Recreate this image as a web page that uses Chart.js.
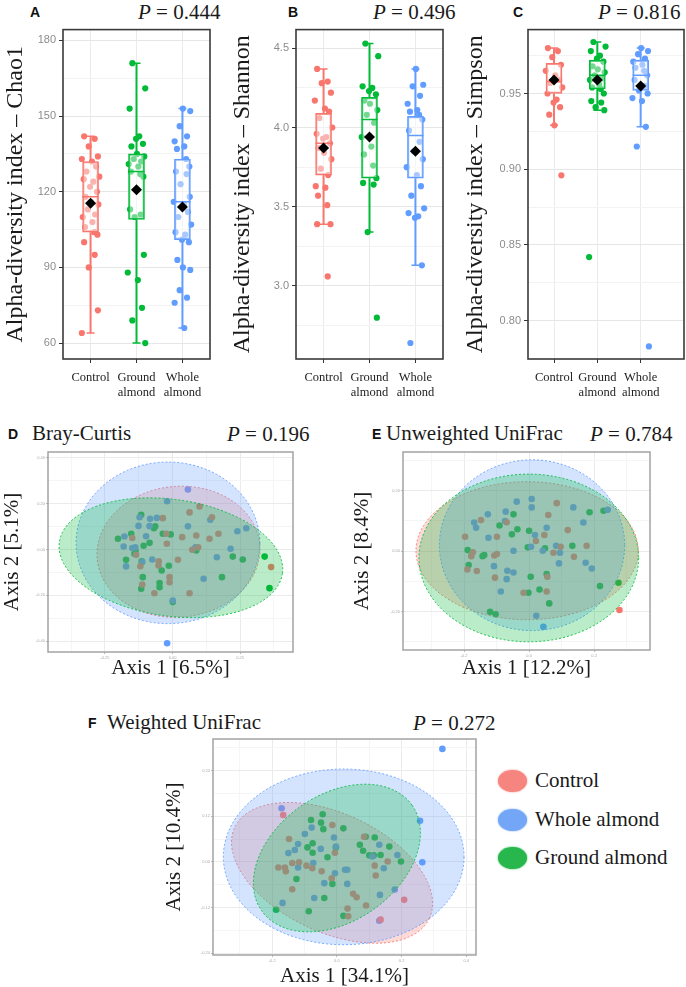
<!DOCTYPE html>
<html>
<head>
<meta charset="utf-8">
<title>Alpha and beta diversity</title>
<script src="https://cdn.jsdelivr.net/npm/chart.js@4.4.1/dist/chart.umd.min.js"></script>
<style>
  html, body { margin: 0; padding: 0; background: #fff; }
  body { position: relative; width: 686px; height: 987px; overflow: hidden; }
  canvas { position: absolute; }
  .t { position: absolute; white-space: nowrap; line-height: 1; color: #1a1a1a; font-family: "Liberation Serif", serif; font-size: 21px; }
  .k { position: absolute; line-height: 1; font-family: "Liberation Sans", Arial, sans-serif; font-weight: bold; font-size: 14px; color: #111; }
  .key { position: absolute; width: 29px; height: 22px; border-radius: 50%; }
</style>
</head>
<body>
<span class="k" style="left:30px;top:5px">A</span>
<span class="t" style="left:138px;top:2px"><i>P</i> = 0.444</span>
<span class="k" style="left:288px;top:5px">B</span>
<span class="t" style="left:373px;top:2px"><i>P</i> = 0.496</span>
<span class="k" style="left:513px;top:5px">C</span>
<span class="t" style="left:598px;top:2px"><i>P</i> = 0.816</span>

<span class="k" style="left:8px;top:427px">D</span>
<span class="t" style="left:32px;top:423px">Bray-Curtis</span>
<span class="t" style="left:227px;top:424px"><i>P</i> = 0.196</span>
<span class="k" style="left:372px;top:427px">E</span>
<span class="t" style="left:386px;top:423px">Unweighted UniFrac</span>
<span class="t" style="left:590px;top:424px"><i>P</i> = 0.784</span>

<span class="k" style="left:88px;top:716px">F</span>
<span class="t" style="left:107px;top:712px">Weighted UniFrac</span>
<span class="t" style="left:413px;top:713px"><i>P</i> = 0.272</span>

<div id="legend"></div>

<canvas id="chao" width="225" height="385" style="left:0;top:20px"></canvas>
<canvas id="shannon" width="230" height="385" style="left:225px;top:20px"></canvas>
<canvas id="simpson" width="231" height="385" style="left:455px;top:20px"></canvas>
<canvas id="bray" width="340" height="235" style="left:0;top:445px"></canvas>
<canvas id="unweighted" width="346" height="235" style="left:340px;top:445px"></canvas>
<canvas id="weighted" width="340" height="257" style="left:150px;top:730px"></canvas>

<script>
// ---- alpha diversity (A-C) ----
const boxLabels = [['Control'], ['Ground', 'almond'], ['Whole', 'almond']];
const red = '#F8766D', green = '#00BA38', blue = '#619CFF';
const boxColors = [red, green, blue];

// Chao1
const chaoControl = [142, 141, 138, 134, 133, 132, 130, 128, 126, 125, 124, 122, 120, 118, 116, 115, 113, 111, 110, 108, 106, 104, 103, 100, 95, 90, 73, 64];
const chaoGround = [171, 161, 153, 142, 141, 139, 138, 135, 134, 133, 132, 131, 130, 128, 127, 126, 113, 111, 110, 95, 88, 85, 74, 69, 60];
const chaoWhole = [153, 152, 146, 142, 140, 138, 137, 133, 130, 128, 127, 123, 118, 116, 115, 112, 110, 107, 104, 103, 101, 100, 93, 90, 89, 81, 78, 76, 66];
// [lower whisker, q1, median, q3, upper whisker]
const chaoBox = [[64, 104, 118, 132, 142], [60, 109, 128, 135, 171], [66, 101, 116, 133, 153]];
const chaoMean = [115.5, 120.8, 114.0];

// Shannon
const shannonControl = [4.37, 4.29, 4.28, 4.22, 4.17, 4.12, 4.10, 4.06, 4.00, 3.96, 3.94, 3.93, 3.90, 3.87, 3.84, 3.80, 3.74, 3.70, 3.63, 3.62, 3.57, 3.51, 3.39, 3.39, 3.06];
const shannonGround = [4.53, 4.45, 4.26, 4.25, 4.23, 4.21, 4.17, 4.15, 4.11, 4.08, 4.03, 3.94, 3.88, 3.83, 3.76, 3.68, 3.65, 3.64, 3.34, 2.80];
const shannonWhole = [4.37, 4.27, 4.26, 4.20, 4.15, 4.11, 4.10, 4.08, 4.05, 3.98, 3.91, 3.85, 3.80, 3.75, 3.70, 3.63, 3.57, 3.49, 3.46, 3.44, 3.43, 3.13, 2.64];
const shannonBox = [[3.39, 3.70, 3.90, 4.09, 4.37], [3.34, 3.68, 4.05, 4.19, 4.53], [3.13, 3.68, 3.95, 4.07, 4.37]];
const shannonMean = [3.87, 3.94, 3.85];

// Simpson
const simpsonControl = [0.980, 0.978, 0.974, 0.969, 0.965, 0.962, 0.959, 0.957, 0.954, 0.950, 0.946, 0.944, 0.941, 0.936, 0.929, 0.896];
const simpsonGround = [0.984, 0.981, 0.978, 0.975, 0.973, 0.971, 0.968, 0.966, 0.964, 0.962, 0.960, 0.959, 0.956, 0.954, 0.953, 0.950, 0.945, 0.944, 0.941, 0.939, 0.842];
const simpsonWhole = [0.980, 0.978, 0.976, 0.973, 0.971, 0.969, 0.967, 0.965, 0.962, 0.959, 0.955, 0.952, 0.950, 0.947, 0.945, 0.928, 0.915, 0.783];
const simpsonBox = [[0.929, 0.950, 0.958, 0.970, 0.980], [0.939, 0.953, 0.962, 0.972, 0.984], [0.928, 0.952, 0.962, 0.972, 0.980]];
const simpsonMean = [0.959, 0.959, 0.955];

// horizontal jitter of the dots (category units)
const jitter = [-0.14, 0.09, -0.04, 0.16, -0.19, 0.03, 0.12, -0.09, 0.19, -0.15, 0.06, -0.01, 0.14, -0.11, 0.01, 0.17, -0.06, 0.10, -0.17, 0.04, -0.12, 0.08, 0.15];

// ---- beta diversity (D-F), points as [axis1, axis2] ----
const legendNames = ['Control', 'Whole almond', 'Ground almond'];
const pcoaColors = [red, blue, green];

const brayControl = [[0.100, 0.188], [0.063, 0.162], [0.146, 0.141], [-0.036, 0.137], [0.036, 0.054], [0.088, 0.061], [0.137, 0.047], [0.170, 0.069], [-0.021, 0.025], [-0.149, 0.050], [-0.023, 0.069], [0.073, -0.001], [0.095, 0.010], [-0.135, -0.023], [-0.051, -0.052], [-0.052, -0.070], [0.020, -0.045], [-0.119, -0.073], [-0.011, -0.121], [-0.011, -0.143], [-0.112, -0.153], [-0.067, -0.191], [0.063, -0.191], [0.365, -0.077]];
const brayWhole = [[0.057, 0.262], [-0.020, 0.211], [-0.122, 0.141], [-0.083, 0.134], [-0.058, 0.138], [-0.126, 0.103], [-0.085, 0.102], [0.057, 0.101], [0.140, 0.130], [0.240, 0.080], [0.273, 0.093], [-0.178, 0.057], [-0.098, 0.058], [-0.181, 0.013], [-0.149, 0.006], [-0.138, 0.010], [-0.075, -0.044], [-0.172, -0.074], [0.215, 0.003], [0.164, -0.034], [0.085, 0.010], [0.115, -0.128], [0.001, -0.223], [-0.020, -0.410], [-0.112, -0.055]];
const brayGround = [[-0.116, 0.152], [-0.153, 0.069], [-0.064, 0.101], [-0.069, 0.093], [-0.036, 0.069], [-0.007, 0.066], [-0.202, 0.047], [-0.107, 0.016], [-0.085, 0.029], [-0.137, -0.007], [-0.141, -0.019], [-0.172, -0.045], [-0.114, -0.052], [-0.040, -0.092], [-0.014, -0.071], [0.088, -0.004], [0.223, -0.031], [0.260, -0.044], [0.183, -0.121], [0.341, -0.031], [0.359, -0.169], [-0.110, -0.121], [-0.116, -0.172], [-0.048, -0.147], [-0.048, -0.165], [0.001, -0.230]];
// ellipses: [centre axis1, centre axis2, radius axis1, radius axis2, tilt deg]
const brayEllipse = [[0.022, -0.010, 0.302, 0.286, -5], [-0.017, 0.029, 0.340, 0.353, 0], [-0.006, -0.036, 0.417, 0.255, 8]];

const unwControl = [[-0.197, 0.047], [-0.173, -0.004], [-0.178, -0.017], [-0.148, 0.102], [-0.069, 0.095], [-0.099, 0.047], [-0.107, -0.015], [-0.099, -0.010], [-0.190, -0.061], [-0.161, -0.066], [-0.105, -0.088], [-0.017, -0.138], [0.021, 0.033], [0.047, 0.053], [0.059, 0.119], [0.085, 0.158], [0.075, -0.006], [0.097, 0.014], [0.119, 0.069], [0.138, -0.019], [0.177, 0.017], [0.056, -0.085], [0.054, -0.134], [0.278, -0.195]];
const unwWhole = [[-0.038, 0.163], [0.008, 0.172], [0.008, 0.144], [-0.072, 0.130], [-0.127, 0.121], [-0.074, 0.099], [-0.169, 0.094], [-0.163, 0.077], [-0.125, 0.044], [0.018, 0.053], [0.054, 0.077], [0.136, 0.144], [0.167, 0.094], [0.242, 0.136], [-0.048, 0.001], [0.006, 0.014], [0.042, 0.001], [0.083, 0.017], [0.095, -0.006], [0.092, -0.041], [0.174, -0.039], [0.193, -0.058], [-0.108, -0.050], [-0.067, -0.065], [-0.048, -0.071], [-0.069, -0.093], [-0.087, -0.134], [0.022, -0.214], [0.044, -0.250]];
const unwGround = [[-0.189, 0.003], [-0.143, -0.017], [-0.138, -0.013], [-0.186, -0.046], [-0.091, 0.084], [-0.048, 0.121], [-0.053, 0.055], [-0.036, 0.072], [0.000, 0.067], [-0.004, 0.012], [0.049, 0.009], [0.005, -0.085], [0.054, -0.076], [-0.002, -0.138], [0.032, -0.127], [0.062, -0.173], [-0.120, -0.201], [-0.103, -0.209], [0.133, 0.017], [0.186, 0.128], [0.229, 0.133], [0.218, -0.116], [0.275, -0.105]];
const unwEllipse = [[-0.006, 0.001, 0.342, 0.228, 0], [0.009, 0.019, 0.285, 0.282, 0], [-0.001, -0.023, 0.338, 0.277, 0]];

const wControl = [[-0.166, 0.123], [-0.014, 0.097], [0.084, 0.066], [-0.148, 0.060], [-0.006, 0.024], [-0.138, -0.003], [-0.117, -0.001], [-0.181, -0.015], [-0.161, -0.015], [-0.158, -0.025], [-0.094, -0.010], [-0.076, -0.017], [-0.047, -0.025], [-0.016, -0.043], [0.117, -0.010], [0.157, 0.001], [0.120, -0.036], [-0.138, -0.072], [0.050, -0.084], [0.061, -0.093], [0.090, -0.115], [0.033, -0.123], [0.035, -0.143], [0.208, -0.100], [0.135, -0.152]];
const wWhole = [[0.326, 0.297], [-0.171, 0.141], [0.257, 0.108], [0.264, -0.001], [-0.078, 0.090], [-0.099, 0.073], [-0.009, 0.064], [-0.120, 0.047], [-0.150, 0.023], [-0.130, 0.031], [-0.050, 0.034], [-0.003, 0.040], [0.131, 0.045], [0.110, 0.014], [0.187, 0.018], [0.145, -0.017], [-0.073, -0.003], [-0.120, -0.015], [-0.006, -0.030], [0.025, -0.021], [0.032, -0.021], [-0.039, -0.056], [0.032, -0.058], [-0.070, -0.095], [-0.168, -0.108], [0.133, -0.087], [0.179, -0.073], [0.131, -0.155]];
const wGround = [[-0.080, 0.110], [-0.044, 0.125], [-0.049, 0.103], [-0.042, 0.086], [0.020, 0.088], [0.089, 0.066], [0.117, 0.064], [0.162, 0.040], [0.071, 0.045], [0.081, 0.029], [0.100, 0.017], [0.114, 0.017], [0.135, 0.018], [0.198, 0.001], [-0.091, 0.038], [-0.075, 0.049], [-0.075, 0.024], [-0.029, 0.012], [-0.003, 0.038], [-0.125, -0.045], [-0.014, -0.058], [-0.039, -0.095], [-0.087, -0.130], [-0.188, -0.126], [0.020, -0.142]];
const wEllipse = [[-0.015, -0.029, 0.332, 0.156, 25], [0.021, 0.013, 0.372, 0.231, 0], [0.000, 0.010, 0.284, 0.166, -35]];

// ---------------------------------------------------------------
const serif = '"Liberation Serif", "Times New Roman", serif';
const sans = '"Liberation Sans", Arial, sans-serif';

function isMajor(v, step) {
    const r = v / step;
    return Math.abs(r - Math.round(r)) < 1e-6;
}

function rgba(hex, a) {
    const n = parseInt(hex.slice(1), 16);
    return 'rgba(' + (n >> 16) + ',' + ((n >> 8) & 255) + ',' + (n & 255) + ',' + a + ')';
}

// panel border
function framePlugin(color, width) {
    return {
        id: 'frame',
        afterDraw(chart) {
            const a = chart.chartArea, ctx = chart.ctx;
            ctx.save();
            ctx.strokeStyle = color;
            ctx.lineWidth = width;
            ctx.strokeRect(a.left, a.top, a.right - a.left, a.bottom - a.top);
            ctx.restore();
        }
    };
}

// confidence ellipses, placed with the chart scales
function ellipsePlugin(list, colors) {
    return {
        id: 'ellipses',
        afterDatasetsDraw(chart) {
            const ctx = chart.ctx, x = chart.scales.x, y = chart.scales.y, a = chart.chartArea;
            ctx.save();
            ctx.beginPath();
            ctx.rect(a.left, a.top, a.right - a.left, a.bottom - a.top);
            ctx.clip();
            list.forEach((e, i) => {
                const px = x.getPixelForValue(e[0]);
                const py = y.getPixelForValue(e[1]);
                const rx = Math.abs(x.getPixelForValue(e[0] + e[2]) - px);
                const ry = Math.abs(y.getPixelForValue(e[1] + e[3]) - py);
                ctx.beginPath();
                ctx.ellipse(px, py, rx, ry, e[4] * Math.PI / 180, 0, 2 * Math.PI);
                ctx.fillStyle = rgba(colors[i], 0.27);
                ctx.fill();
                ctx.setLineDash([2, 2]);
                ctx.lineWidth = 1;
                ctx.strokeStyle = rgba(colors[i], 0.9);
                ctx.stroke();
            });
            ctx.restore();
        }
    };
}

function boxChart(id, pts, box, means, o) {
    const ds = [];
    pts.forEach((vals, g) => {
        ds.push({
            type: 'scatter',
            order: 6,
            data: vals.map((v, i) => ({ x: g + 1 + jitter[(i + g * 7) % jitter.length], y: v })),
            pointBackgroundColor: boxColors[g],
            pointBorderWidth: 0,
            pointRadius: 3.1
        });
    });
    ds.push({
        type: 'bar',
        order: 5,
        data: box.map((b, g) => ({ x: g + 1, y: [b[1], b[3]] })),
        backgroundColor: 'rgba(255,255,255,0.45)',
        borderColor: boxColors,
        borderWidth: 1.5,
        borderSkipped: false,
        barThickness: 16
    });
    box.forEach((b, g) => {
        ds.push({
            type: 'line',
            order: 4,
            data: [{ x: g + 1, y: b[0] }, { x: g + 1, y: b[1] }, { x: g + 1, y: null }, { x: g + 1, y: b[3] }, { x: g + 1, y: b[4] }],
            borderColor: boxColors[g],
            borderWidth: 2,
            pointRadius: 0,
            spanGaps: false,
            fill: false
        });
    });
    // whisker caps
    ds.push({
        type: 'scatter',
        order: 3,
        data: box.flatMap((b, g) => [{ x: g + 1, y: b[0] }, { x: g + 1, y: b[4] }]),
        pointStyle: 'line',
        pointRadius: 4,
        pointBorderWidth: 1.5,
        pointBorderColor: box.flatMap((b, g) => [boxColors[g], boxColors[g]])
    });
    // medians
    ds.push({
        type: 'scatter',
        order: 3,
        data: box.map((b, g) => ({ x: g + 1, y: b[2] })),
        pointStyle: 'line',
        pointRadius: 8,
        pointBorderWidth: 1.5,
        pointBorderColor: boxColors
    });
    // means
    ds.push({
        type: 'scatter',
        order: 1,
        data: means.map((m, g) => ({ x: g + 1, y: m })),
        pointStyle: 'rectRot',
        pointRadius: 5.5,
        pointBackgroundColor: '#000',
        pointBorderWidth: 0
    });

    return new Chart(document.getElementById(id), {
        type: 'bar',
        data: { datasets: ds },
        plugins: [framePlugin('#3a3a3a', 1.6)],
        options: {
            responsive: false,
            animation: false,
            events: [],
            layout: { autoPadding: false, padding: { top: 5, right: o.padRight, left: 0, bottom: 0 } },
            plugins: { legend: { display: false }, tooltip: { enabled: false } },
            scales: {
                x: {
                    type: 'linear',
                    min: 0.4,
                    max: o.xMax,
                    offset: false,
                    afterBuildTicks: s => { s.ticks = [1, 2, 3].map(v => ({ value: v })); },
                    afterFit: s => { s.height = 46; },
                    grid: { offset: false, color: '#ebebeb', tickColor: '#333', tickLength: 4 },
                    border: { display: false },
                    ticks: {
                        autoSkip: false,
                        maxRotation: 0,
                        padding: 8,
                        color: '#222',
                        font: { family: serif, size: 12.5, lineHeight: 1.15 },
                        callback: v => boxLabels[Math.round(v) - 1]
                    }
                },
                y: {
                    min: o.yMin,
                    max: o.yMax,
                    afterFit: s => { s.width = o.yWidth; },
                    grid: {
                        color: c => isMajor(c.tick.value, o.major) ? '#e6e6e6' : '#f3f3f3',
                        tickColor: c => isMajor(c.tick.value, o.major) ? '#333' : 'rgba(0,0,0,0)',
                        tickLength: 4
                    },
                    border: { display: false },
                    ticks: {
                        stepSize: o.minor,
                        includeBounds: false,
                        autoSkip: false,
                        padding: 3,
                        color: '#8c8c8c',
                        font: { family: sans, size: 11 },
                        callback: v => isMajor(v, o.major) ? v.toFixed(o.dec) : ''
                    },
                    title: {
                        display: true,
                        text: o.title,
                        color: '#1a1a1a',
                        font: { family: serif, size: 24, lineHeight: 1 },
                        padding: { top: o.titlePad, bottom: 0 }
                    }
                }
            }
        }
    });
}

function pcoaChart(id, sets, ellipses, o) {
    const ds = sets.map((pts, g) => ({
        type: 'scatter',
        data: pts.map(p => ({ x: p[0], y: p[1] })),
        pointBackgroundColor: pcoaColors[g],
        pointBorderWidth: 0,
        pointRadius: 3.3
    }));
    const axis = (min, max, major, minor, dec, title, pad, vertical) => ({
        min: min,
        max: max,
        grid: {
            color: c => isMajor(c.tick.value, major) ? '#ebebeb' : '#f5f5f5',
            tickColor: c => isMajor(c.tick.value, major) ? '#bbb' : 'rgba(0,0,0,0)',
            tickLength: 2
        },
        border: { display: false },
        ticks: {
            stepSize: minor,
            includeBounds: false,
            autoSkip: false,
            maxRotation: 0,
            padding: 1,
            color: '#aaa',
            font: { family: sans, size: 4 },
            callback: v => isMajor(v, major) ? v.toFixed(dec) : ''
        },
        title: {
            display: true,
            text: title,
            color: '#1a1a1a',
            font: { family: serif, size: 21, lineHeight: 1 },
            padding: vertical ? { top: pad, bottom: 0 } : { top: 0, bottom: pad }
        }
    });
    const x = axis(o.xMin, o.xMax, o.xMajor, o.xMinor, o.xDec, o.xTitle, o.xPad, false);
    x.type = 'linear';
    x.afterFit = s => { s.height = o.xHeight; };
    const y = axis(o.yMin, o.yMax, o.yMajor, o.yMinor, o.yDec, o.yTitle, o.yPad, true);
    y.afterFit = s => { s.width = o.yWidth; };

    return new Chart(document.getElementById(id), {
        type: 'scatter',
        data: { datasets: ds },
        plugins: [ellipsePlugin(ellipses, pcoaColors), framePlugin('#a3a3a3', 1.5)],
        options: {
            responsive: false,
            animation: false,
            events: [],
            layout: { autoPadding: false, padding: { top: o.padTop, right: o.padRight, left: 0, bottom: 0 } },
            plugins: { legend: { display: false }, tooltip: { enabled: false } },
            scales: { x: x, y: y }
        }
    });
}

boxChart('chao', [chaoControl, chaoGround, chaoWhole], chaoBox, chaoMean, {
    yMin: 53.7, yMax: 184.3, major: 30, minor: 15, dec: 0, xMax: 3.6,
    yWidth: 63, padRight: 15, titlePad: 4, title: 'Alpha-diversity index – Chao1'
});
boxChart('shannon', [shannonControl, shannonGround, shannonWhole], shannonBox, shannonMean, {
    yMin: 2.539, yMax: 4.618, major: 0.5, minor: 0.25, dec: 1, xMax: 3.6,
    yWidth: 71, padRight: 12, titlePad: 6, title: 'Alpha-diversity index – Shannon'
});
boxChart('simpson', [simpsonControl, simpsonGround, simpsonWhole], simpsonBox, simpsonMean, {
    yMin: 0.7747, yMax: 0.9922, major: 0.05, minor: 0.025, dec: 2, xMax: 4.0,
    yWidth: 73, padRight: 2, titlePad: 9, title: 'Alpha-diversity index – Simpson'
});

pcoaChart('bray', [brayControl, brayWhole, brayGround], brayEllipse, {
    xMin: -0.461, xMax: 0.446, xMajor: 0.25, xMinor: 0.125, xDec: 2, xTitle: 'Axis 1 [6.5%]', xPad: 1, xHeight: 28,
    yMin: -0.448, yMax: 0.426, yMajor: 0.2, yMinor: 0.1, yDec: 2, yTitle: 'Axis 2 [5.1%]', yPad: 2, yWidth: 48,
    padTop: 7, padRight: 47
});
pcoaChart('unweighted', [unwControl, unwWhole, unwGround], unwEllipse, {
    xMin: -0.388, xMax: 0.372, xMajor: 0.2, xMinor: 0.1, xDec: 1, xTitle: 'Axis 1 [12.2%]', xPad: 1, xHeight: 30,
    yMin: -0.327, yMax: 0.327, yMajor: 0.2, yMinor: 0.1, yDec: 2, yTitle: 'Axis 2 [8.4%]', yPad: 12, yWidth: 63,
    padTop: 7, padRight: 36
});
pcoaChart('weighted', [wControl, wWhole, wGround], wEllipse, {
    xMin: -0.383, xMax: 0.430, xMajor: 0.2, xMinor: 0.1, xDec: 1, xTitle: 'Axis 1 [34.1%]', xPad: 0, xHeight: 32,
    yMin: -0.245, yMax: 0.323, yMajor: 0.12, yMinor: 0.06, yDec: 2, yTitle: 'Axis 2 [10.4%]', yPad: 14, yWidth: 63,
    padTop: 9, padRight: 14
});

// legend for D-F
const legend = document.getElementById('legend');
const keyColors = ['#f7857f', '#74a6f8', '#27b74c'];
legendNames.forEach((name, i) => {
    const cy = 781 + i * 38.5;
    const key = document.createElement('div');
    key.className = 'key';
    key.style.left = '498px';
    key.style.top = (cy - 11) + 'px';
    key.style.background = keyColors[i];
    key.style.boxShadow = '0 0 2px ' + keyColors[i];
    legend.appendChild(key);
    const txt = document.createElement('span');
    txt.className = 't';
    txt.style.left = '535px';
    txt.style.top = (cy - 11) + 'px';
    txt.textContent = name;
    legend.appendChild(txt);
});
</script>
</body>
</html>
